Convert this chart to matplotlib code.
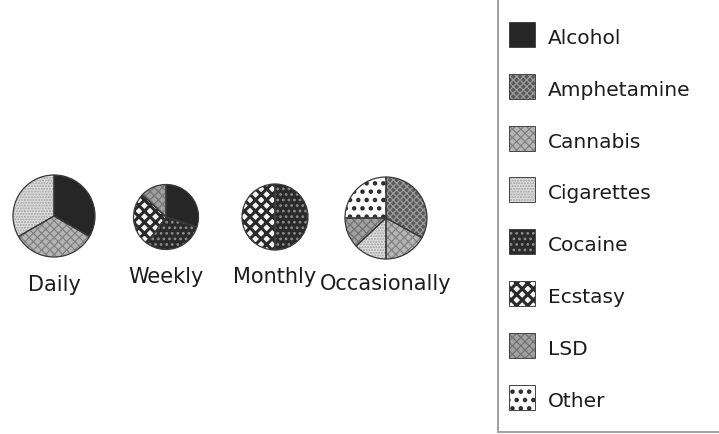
import matplotlib
matplotlib.use("Agg")
import matplotlib.pyplot as plt
from matplotlib.patches import Rectangle

# ---------------- data ----------------
categories = ['Alcohol', 'Amphetamine', 'Cannabis', 'Cigarettes',
              'Cocaine', 'Ecstasy', 'LSD', 'Other']
frequencies = ['Daily', 'Weekly', 'Monthly', 'Occasionally']
daily = [1, 0, 1, 1, 0, 0, 0, 0]
weekly = [0.30, 0, 0, 0, 0.30, 0.27, 0.13, 0]
monthly = [0, 0, 0, 0, 0.5, 0.5, 0, 0]
occasionally = [0, 0.33, 0.17, 0.13, 0, 0, 0.12, 0.25]
series = [daily, weekly, monthly, occasionally]

# ---------------- styles ----------------
face = {'Alcohol': '#262626', 'Amphetamine': '#5a5a5a', 'Cannabis': '#b4b4b4',
        'Cigarettes': '#dedede', 'Cocaine': '#2a2a2a', 'Ecstasy': '#f4f4f4',
        'LSD': '#a0a0a0', 'Other': '#fbfbfb'}
hatch = {'Alcohol': None, 'Amphetamine': 'xxxxx', 'Cannabis': 'xxxx',
         'Cigarettes': '......', 'Cocaine': '...', 'Ecstasy': 'xxx',
         'LSD': 'xxxx', 'Other': '..'}
hcol = {'Alcohol': '#262626', 'Amphetamine': '#9a9a9a', 'Cannabis': '#7e7e7e',
        'Cigarettes': '#a0a0a0', 'Cocaine': '#8a8a8a', 'Ecstasy': '#2a2a2a',
        'LSD': '#707070', 'Other': '#2a2a2a'}
hlw = {'Alcohol': 1.0, 'Amphetamine': 0.9, 'Cannabis': 0.8, 'Cigarettes': 1.0,
       'Cocaine': 1.2, 'Ecstasy': 2.2, 'LSD': 0.8, 'Other': 2.0}

W, H = 719, 435
centers = [(54, 217), (166, 218), (275, 218), (386, 219)]
radii = [41, 32.5, 33, 41]
label_baseline = [291, 283, 283, 290]


def style_patch(p, c):
    p.set_facecolor(face[c])
    p.set_edgecolor(hcol[c])
    if hatch[c]:
        p.set_hatch(hatch[c])
        try:
            p.set_hatch_linewidth(hlw[c])
        except Exception:
            p._hatch_linewidth = hlw[c]


fig = plt.figure(figsize=(W / 100, H / 100), dpi=100)
ax = fig.add_axes([0, 0, 1, 1])

for vals, (cx, cy), r, name, bl in zip(series, centers, radii, frequencies, label_baseline):
    cats = [c for c, v in zip(categories, vals) if v > 0]
    v = [v for v in vals if v > 0]
    wedges, _ = ax.pie(v, center=(cx, H - cy), radius=r, counterclock=False,
                       startangle=90, frame=True,
                       wedgeprops=dict(linewidth=0))
    for w, c in zip(wedges, cats):
        style_patch(w, c)
    ax.pie(v, center=(cx, H - cy), radius=r, counterclock=False,
           startangle=90, frame=True,
           wedgeprops=dict(facecolor='none', edgecolor='#3a3a3a', linewidth=0.9))
    ax.text(cx, H - bl, name, ha='center', va='baseline', fontsize=15,
            family='DejaVu Sans', color='#1c1c1c')

# legend box
ax.add_patch(Rectangle((498, H - 433), 240, 450, facecolor='white',
                       edgecolor='#9a9a9a', linewidth=1.3, zorder=1))
for i, c in enumerate(categories):
    base = 44 + i * 51.8
    top = 23 + i * 51.8
    p = Rectangle((509, H - top - 25), 26, 25, linewidth=0, zorder=2)
    style_patch(p, c)
    ax.add_patch(p)
    ax.add_patch(Rectangle((509, H - top - 25), 26, 25, facecolor='none',
                           edgecolor='#444444', linewidth=0.7, zorder=3))
    ax.text(548, H - base, c, ha='left', va='baseline', fontsize=14.5,
            family='DejaVu Sans', color='#1c1c1c', zorder=3)

ax.set_xlim(0, W)
ax.set_ylim(0, H)
ax.set_aspect('equal', adjustable='box')
ax.axis('off')
fig.savefig('out.png', dpi=100, facecolor='white')
